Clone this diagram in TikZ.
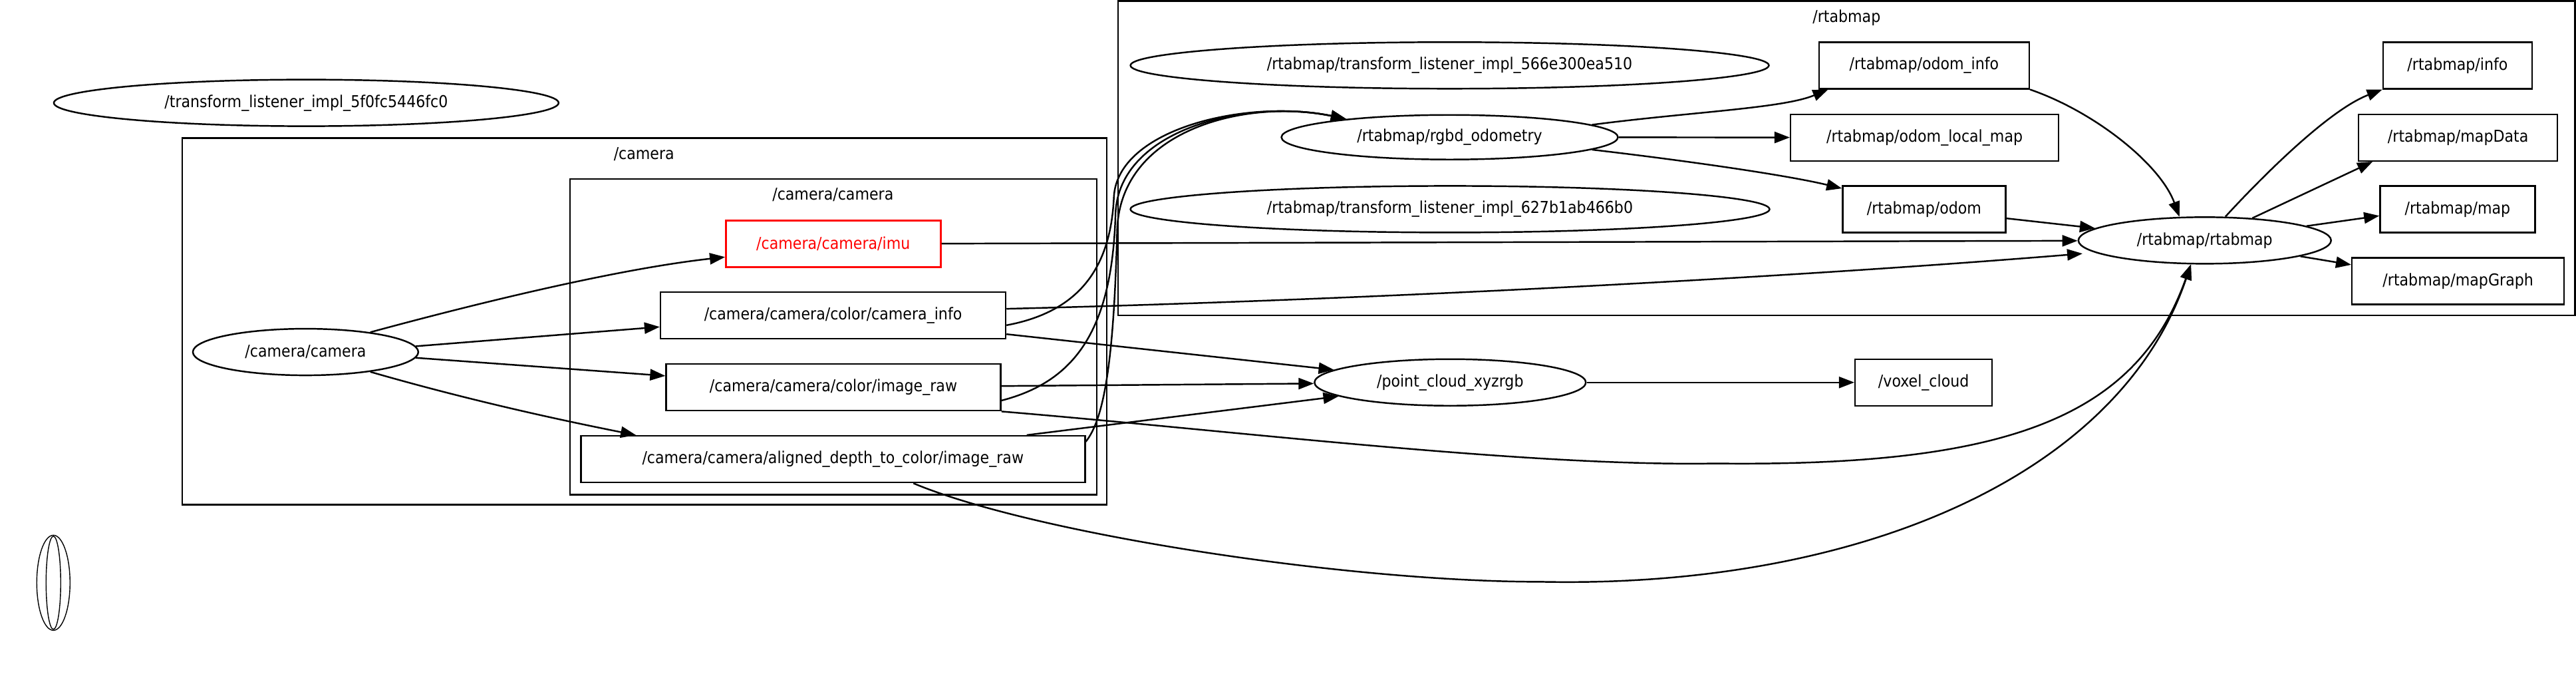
\documentclass[tikz,border=0pt]{standalone}
\usepackage{fontspec}
\setmainfont{DejaVu Sans Condensed}
\usetikzlibrary{shapes.geometric,arrows.meta,calc}

\begin{document}
\begin{tikzpicture}[
    x=0.0247cm, y=-0.0247cm,
    font=\fontsize{7}{8.4}\selectfont,
    rosnode/.style={draw, ellipse, line width=0.7pt, inner sep=0pt, minimum height=0.70cm},
    topic/.style={draw, rectangle, line width=0.7pt, inner sep=0pt, minimum height=0.70cm},
    cluster/.style={draw, line width=0.7pt},
    link/.style={-{Triangle[length=2.3mm,width=1.7mm]}, line width=0.7pt}
]
    \useasboundingbox (0,0) rectangle (1568,414.6);

    % Clusters
    \draw[cluster] (111,84) rectangle (673.7,307);
    \node (lcam) at (392,93.6) {/camera};
    \draw[cluster] (347,109) rectangle (667.6,301);
    \node (lcamcam) at (507,118.6) {/camera/camera};
    \draw[cluster] (680.6,0.6) rectangle (1567.3,191.8);
    \node (lrtab) at (1124,10.8) {/rtabmap};

    % Camera side
    \node[rosnode, minimum width=7.59cm] (tlcam) at (186.4,62.6) {/transform\_listener\_impl\_5f0fc5446fc0};
    \node[rosnode, minimum width=3.39cm] (camcam) at (186,214.2) {/camera/camera};
    \node[topic, draw=red, text=red, minimum width=3.23cm] (imu) at (507.2,148.4) {/camera/camera/imu};
    \node[topic, minimum width=5.19cm] (caminfo) at (507.1,191.9) {/camera/camera/color/camera\_info};
    \node[topic, minimum width=5.03cm] (imgraw) at (507.3,235.7) {/camera/camera/color/image\_raw};
    \node[topic, minimum width=7.58cm] (aligned) at (507,279.4) {/camera/camera/aligned\_depth\_to\_color/image\_raw};

    % rtabmap side
    \node[rosnode, minimum width=9.60cm] (tlrtaba) at (882.4,39.8) {/rtabmap/transform\_listener\_impl\_566e300ea510};
    \node[rosnode, minimum width=5.06cm, minimum height=0.67cm] (rgbd) at (882.4,83.5) {/rtabmap/rgbd\_odometry};
    \node[rosnode, minimum width=9.61cm] (tlrtabb) at (882.6,127.3) {/rtabmap/transform\_listener\_impl\_627b1ab466b0};
    \node[topic, minimum width=3.16cm] (odominfo) at (1171.2,39.8) {/rtabmap/odom\_info};
    \node[topic, minimum width=4.03cm] (odomlocal) at (1171.5,83.7) {/rtabmap/odom\_local\_map};
    \node[topic, minimum width=2.45cm] (odom) at (1171.2,127.3) {/rtabmap/odom};
    \node[rosnode, minimum width=3.80cm] (rtab) at (1342,146.3) {/rtabmap/rtabmap};
    \node[topic, minimum width=2.24cm] (info) at (1495.9,39.8) {/rtabmap/info};
    \node[topic, minimum width=2.99cm] (mapdata) at (1496.2,83.7) {/rtabmap/mapData};
    \node[topic, minimum width=2.33cm] (map) at (1495.9,127.3) {/rtabmap/map};
    \node[topic, minimum width=3.19cm] (mapgraph) at (1496.2,171.1) {/rtabmap/mapGraph};

    % Point cloud
    \node[rosnode, minimum width=4.08cm] (pcl) at (882.7,232.7) {/point\_cloud\_xyzrgb};
    \node[topic, minimum width=2.06cm] (voxel) at (1170.9,232.7) {/voxel\_cloud};

    % Empty node
    \node[draw, ellipse, line width=0.4pt, minimum width=0.50cm, minimum height=1.43cm, inner sep=0pt] (blank) at (32.5,354.6) {};
    \node[draw, ellipse, line width=0.4pt, minimum width=0.22cm, minimum height=1.40cm, inner sep=0pt] (blankin) at (32.5,354.6) {};

    % Edges from /camera/camera
    \draw[link] (camcam.17) .. controls (285,186) and (373,164) .. ($(imu.west)+(0,8)$);
    \draw[link] (camcam.3) -- ($(caminfo.west)+(0,7)$);
    \draw[link] (camcam.-3) -- ($(imgraw.west)+(0,-7)$);
    \draw[link] (camcam.-17) .. controls (280,242) and (333,254) .. ($(aligned.north west)+(34,0)$);

    % Camera topics to rtabmap
    \draw[link] (imu) -- (rtab);
    \draw[link] ($(caminfo.east)+(0,-4)$) .. controls (850,182) and (1100,168) .. ($(rtab.west)+(3,8)$);
    \draw[link] ($(caminfo.east)+(0,6)$) .. controls (655,190) and (676,165) .. (678,120)
        .. controls (680,78) and (760,60) .. (rgbd.170);
    \draw[link] ($(imgraw.east)+(0,8)$) .. controls (655,232) and (677,200) .. (679,130)
        .. controls (681,78) and (760,60) .. (rgbd.170);
    \draw[link] ($(aligned.north east)+(0,4)$) .. controls (672,255) and (678,220) .. (680,140)
        .. controls (682,78) and (760,60) .. (rgbd.170);
    \draw[link] (imgraw.south east) .. controls (750,262) and (930,284) .. (1044,282)
        .. controls (1220,284) and (1300,255) .. (rtab.240);
    \draw[link] ($(aligned.south)+(49,0)$) .. controls (630,325) and (820,354) .. (938,354)
        .. controls (1130,358) and (1290,290) .. (rtab.240);

    % Camera topics to point cloud
    \draw[link] (caminfo) -- (pcl);
    \draw[link] (imgraw) -- (pcl);
    \draw[link] (aligned) -- (pcl);
    \draw[link] (pcl) -- (voxel);

    % Odometry
    \draw[link] (rgbd.5) .. controls (1030,68) and (1085,66) .. ($(odominfo.south west)+(6,0)$);
    \draw[link] (rgbd) -- (odomlocal);
    \draw[link] (rgbd.-5) .. controls (1020,97) and (1085,106) .. ($(odom.north west)+(0,2)$);
    \draw[link] (odominfo.south east) .. controls (1275,68) and (1315,100) .. (rtab.137);
    \draw[link] (odom) -- (rtab);

    % rtabmap outputs
    \draw[link] (rtab.49) .. controls (1370,115) and (1415,68) .. (info.south west);
    \draw[link] (rtab) -- ($(mapdata.south west)+(9,0)$);
    \draw[link] (rtab) -- ($(map.west)+(0,4)$);
    \draw[link] (rtab) -- ($(mapgraph.west)+(0,-10)$);
\end{tikzpicture}
\end{document}
